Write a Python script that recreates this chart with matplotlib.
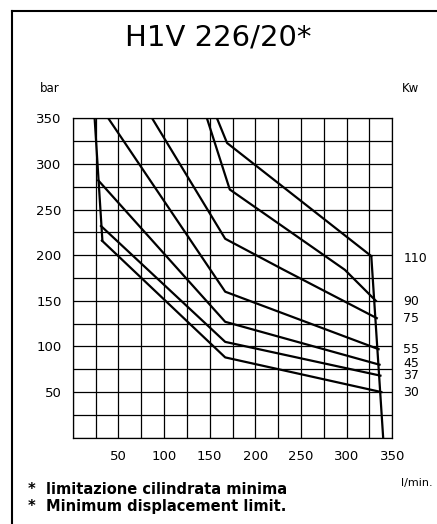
import matplotlib
matplotlib.use("Agg")
import matplotlib.pyplot as plt
from matplotlib.lines import Line2D

# power curves (l/min, bar), labelled by kW
kw_labels = ["110", "90", "75", "55", "45", "37", "30"]
curve_x = [
    [158, 169, 327],
    [147, 172, 298, 332],
    [87, 167, 231, 333],
    [39, 167, 335],
    [28, 167, 336],
    [31, 167, 337],
    [32, 167, 338],
]
curve_y = [
    [350, 323, 199],
    [350, 272, 184, 150],
    [350, 218, 184, 131],
    [350, 160, 97],
    [282, 127, 80],
    [232, 105, 68],
    [216, 88, 50],
]
label_y = [196, 149, 131, 97, 81, 68, 50]

# minimum displacement limit (left) and max flow limit (right)
min_x = [24, 32.5]
min_y = [350, 216]
max_x = [327, 340]
max_y = [199, 0]

x_ticks = [50, 100, 150, 200, 250, 300, 350]
y_ticks = [50, 100, 150, 200, 250, 300, 350]

fig = plt.figure(figsize=(4.37, 5.24), dpi=100)
ax = fig.add_axes([0.1664, 0.1647, 0.7313, 0.6095])

for gx in range(0, 351, 25):
    ax.axvline(gx, color="black", lw=0.9, zorder=1)
for gy in range(0, 351, 25):
    ax.axhline(gy, color="black", lw=0.9, zorder=1)

for cx, cy in zip(curve_x, curve_y):
    ax.plot(cx, cy, color="black", lw=1.6, zorder=3, solid_joinstyle="round")
ax.plot(min_x, min_y, color="black", lw=1.6, zorder=3)
ax.plot(max_x, max_y, color="black", lw=1.6, zorder=3)

for lab, ly in zip(kw_labels, label_y):
    ax.text(362, ly, lab, fontsize=9, va="center", ha="left", clip_on=False)

ax.set_xlim(0, 350)
ax.set_ylim(0, 350)
ax.set_xticks(x_ticks)
ax.set_yticks(y_ticks)
ax.tick_params(length=0, labelsize=9.5)
ax.tick_params(axis="x", pad=9)
ax.tick_params(axis="y", pad=8)
for s in ax.spines.values():
    s.set_linewidth(0.9)

# texts around the chart
fig.text(0.5, 1 - 37 / 524, "H1V 226/20*", fontsize=21, ha="center", va="center")
fig.text(40 / 437, 1 - 88 / 524, "bar", fontsize=8.5, ha="left", va="center")
fig.text(402 / 437, 1 - 88 / 524, "Kw", fontsize=8.5, ha="left", va="center")
fig.text(401 / 437, 1 - 483 / 524, "l/min.", fontsize=8, ha="left", va="center")
fig.text(28 / 437, 1 - 490 / 524, "*  limitazione cilindrata minima", fontsize=10.5,
         ha="left", va="center", fontweight="bold")
fig.text(28 / 437, 1 - 506 / 524, "*  Minimum displacement limit.", fontsize=10.5,
         ha="left", va="center", fontweight="bold")

# outer frame: only left and top edges show
fx = 11.5 / 437
fy = 1 - 10.5 / 524
fig.add_artist(Line2D([fx, fx], [0, fy], transform=fig.transFigure, color="black", lw=1.5))
fig.add_artist(Line2D([fx, 1], [fy, fy], transform=fig.transFigure, color="black", lw=1.5))

fig.savefig("out.png", dpi=100)
